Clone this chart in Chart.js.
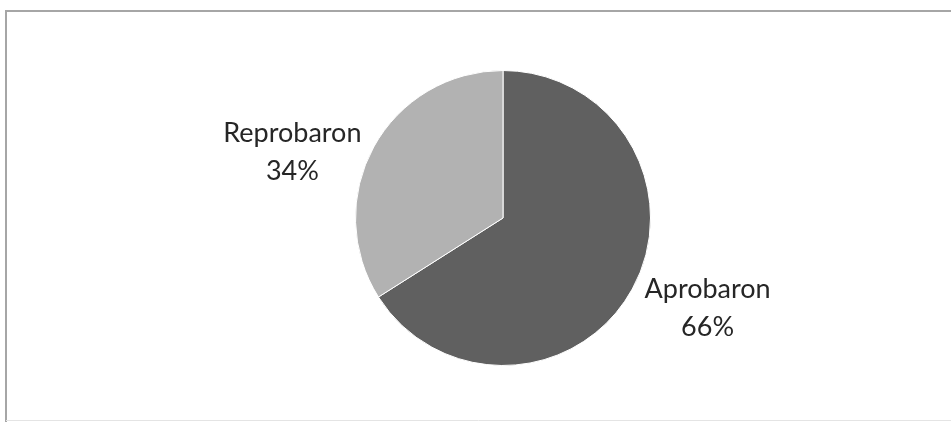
<!DOCTYPE html>
<html>
<head>
<meta charset="utf-8">
<script src="https://cdn.jsdelivr.net/npm/chart.js@4/dist/chart.umd.min.js"></script>
<style>
  html, body { margin: 0; padding: 0; background: #fff; overflow: hidden; }
</style>
</head>
<body>
<canvas id="pie" width="951" height="422"></canvas>
<script>
var labels = ["Aprobaron", "Reprobaron"];
var values = [66, 34];
var sliceColors = ["#606060", "#b2b2b2"];

// open frame: top, left and a faint bottom edge
var frame = {
  id: "frame",
  beforeDraw: function (chart) {
    var ctx = chart.ctx;
    ctx.save();
    ctx.strokeStyle = "#a6a6a6";
    ctx.lineWidth = 2;
    ctx.beginPath();
    ctx.moveTo(chart.width, 11);
    ctx.lineTo(6, 11);
    ctx.lineTo(6, chart.height);
    ctx.stroke();
    ctx.strokeStyle = "#e4e4e4";
    ctx.lineWidth = 1;
    ctx.beginPath();
    ctx.moveTo(6, 420.5);
    ctx.lineTo(chart.width, 420.5);
    ctx.stroke();
    ctx.restore();
  }
};

// category name + percent, placed just outside each slice
var outsideLabels = {
  id: "outsideLabels",
  afterDraw: function (chart) {
    var ctx = chart.ctx;
    var meta = chart.getDatasetMeta(0);
    var total = values.reduce(function (a, b) { return a + b; }, 0);
    ctx.save();
    ctx.font = "27px Lato";
    ctx.fillStyle = "#262626";
    ctx.textBaseline = "middle";
    meta.data.forEach(function (arc, i) {
      var mid = (arc.startAngle + arc.endAngle) / 2;
      var d = arc.outerRadius + 14;
      var ax = arc.x + Math.cos(mid) * d;
      var ay = arc.y + Math.sin(mid) * d + 12;
      var lines = [labels[i], Math.round(values[i] / total * 100) + "%"];
      var w = Math.max.apply(null, lines.map(function (t) { return ctx.measureText(t).width; }));
      var left = Math.cos(mid) < 0 ? ax - w : ax;
      var lh = 38;
      ctx.textAlign = "center";
      lines.forEach(function (t, j) {
        ctx.fillText(t, left + w / 2, ay + (j - (lines.length - 1) / 2) * lh);
      });
    });
    ctx.restore();
  }
};

new Chart(document.getElementById("pie"), {
  type: "pie",
  data: {
    labels: labels,
    datasets: [{
      data: values,
      backgroundColor: sliceColors,
      borderColor: "#ffffff",
      borderWidth: 1
    }]
  },
  options: {
    responsive: false,
    animation: false,
    layout: { padding: { left: 355, right: 300, top: 70, bottom: 56 } },
    plugins: {
      legend: { display: false },
      tooltip: { enabled: false }
    }
  },
  plugins: [frame, outsideLabels]
});
</script>
</body>
</html>
